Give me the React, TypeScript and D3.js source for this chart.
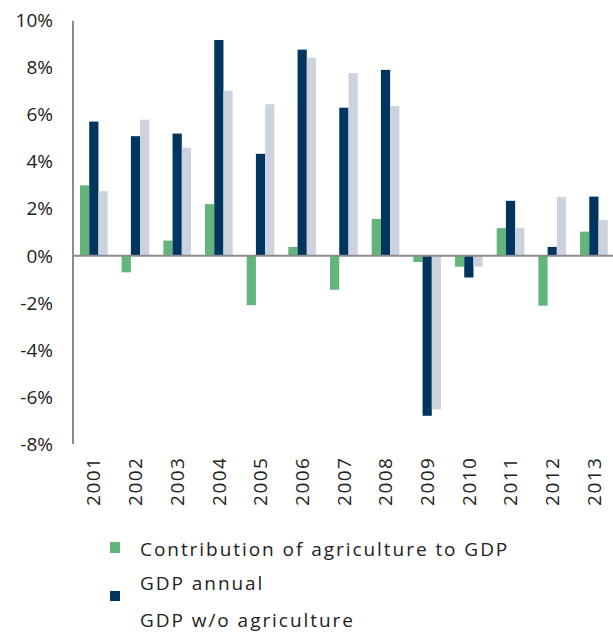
import React from "react";
import * as d3 from "d3";

const years = ["2001","2002","2003","2004","2005","2006","2007","2008","2009","2010","2011","2012","2013"];
const agriContribution = [3.0, -0.7, 0.65, 2.2, -2.1, 0.38, -1.44, 1.57, -0.26, -0.46, 1.18, -2.12, 1.03];
const gdpAnnual = [5.71, 5.09, 5.2, 9.18, 4.34, 8.77, 6.3, 7.91, -6.8, -0.92, 2.34, 0.38, 2.52];
const gdpWithoutAgri = [2.75, 5.79, 4.6, 7.02, 6.45, 8.43, 7.77, 6.37, -6.53, -0.46, 1.19, 2.51, 1.53];
const yTicks = [-8, -6, -4, -2, 0, 2, 4, 6, 8, 10];
const seriesNames = ["Contribution of agriculture to GDP", "GDP annual", "GDP w/o agriculture"];
const seriesKeys = ["agri", "gdp", "noAgri"];
const colors = ["#63b57b", "#00355f", "#cdd2df"];

const FONT = "'Open Sans', Lato, sans-serif";

export default function App() {
  const W = 613, H = 632;
  const left = 73;
  const step = 41.67;
  const x0 = d3.scaleBand<string>().domain(years).range([left, left + step * years.length]).padding(0);
  const x1 = d3.scaleBand<string>().domain(seriesKeys).range([7, step - 7]).padding(0);
  const y = d3.scaleLinear().domain([-8, 10]).range([444, 20.7]);
  const data = [agriContribution, gdpAnnual, gdpWithoutAgri];

  return (
    <svg width={W} height={H} style={{ position: "absolute", left: 0, top: 0 }} fontFamily={FONT}>
      <rect width={W} height={H} fill="#fff" />
      {data.map((vals, si) =>
        vals.map((v, i) => (
          <rect
            key={`${si}-${i}`}
            x={(x0(years[i]) as number) + (x1(seriesKeys[si]) as number)}
            y={y(Math.max(0, v))}
            width={x1.bandwidth()}
            height={Math.abs(y(v) - y(0))}
            fill={colors[si]}
          />
        ))
      )}
      <line x1={left} x2={W} y1={y(0)} y2={y(0)} stroke="#8c8c8c" strokeWidth={2} />
      <line x1={left} x2={left} y1={y(10)} y2={y(-8)} stroke="#8c8c8c" strokeWidth={2} />
      {yTicks.map((t) => (
        <text key={t} x={53} y={y(t)} dy="0.35em" textAnchor="end" fontSize={19} fill="#222">
          {`${t}%`}
        </text>
      ))}
      {years.map((yr) => (
        <text
          key={yr}
          transform={`translate(${(x0(yr) as number) + step / 2},456.5) rotate(-90)`}
          dy="0.35em"
          textAnchor="end"
          fontSize={19}
          letterSpacing={1.5}
          fill="#222"
        >
          {yr}
        </text>
      ))}
      <rect x={110} y={542} width={10} height={11} fill={colors[0]} />
      <rect x={110} y={591} width={10} height={10} fill={colors[1]} />
      <text x={140} y={556} fontSize={19} letterSpacing={1.95} fill="#222">{seriesNames[0]}</text>
      <text x={140} y={590} fontSize={19} letterSpacing={1.95} fill="#222">{seriesNames[1]}</text>
      <text x={140} y={627} fontSize={19} letterSpacing={1.95} fill="#222">{seriesNames[2]}</text>
    </svg>
  );
}
